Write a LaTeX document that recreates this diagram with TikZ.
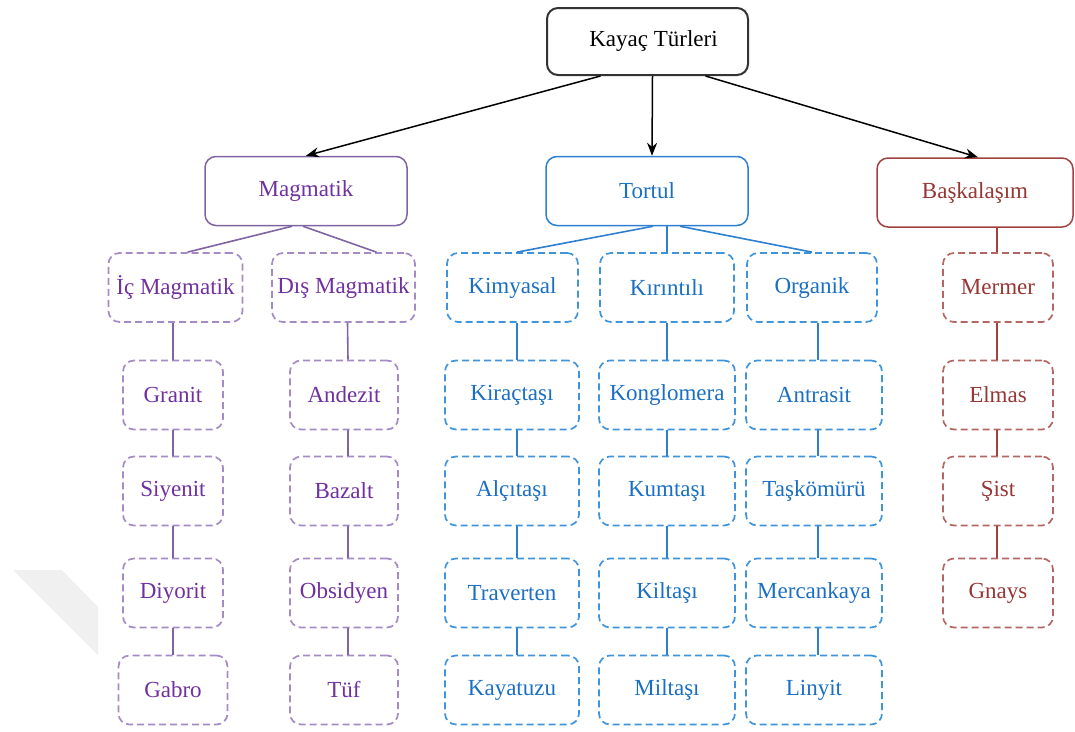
\documentclass[tikz,border=0pt]{standalone}
\usepackage{fontspec}
\setmainfont{Liberation Serif}
\usepackage{tikz}
\usetikzlibrary{arrows.meta,positioning}

\definecolor{mgline}{HTML}{8064A2}
\definecolor{mgtext}{HTML}{7030A0}
\definecolor{mgdash}{HTML}{A48BC6}
\definecolor{trline}{HTML}{2F7FD0}
\definecolor{trtext}{HTML}{1A6FC4}
\definecolor{trdash}{HTML}{3F94DA}
\definecolor{bkline}{HTML}{A0423F}
\definecolor{bktext}{HTML}{953735}
\definecolor{bkdash}{HTML}{B36664}

\tikzset{
  box/.style={rounded corners=11pt, inner sep=0pt, minimum height=69pt, line width=1.5pt, font=\fontsize{23}{27}\selectfont},
  rootbox/.style={box, draw=black!80, line width=2pt, minimum width=201pt, minimum height=67pt},
  mgbox/.style={box, draw=mgline, text=mgtext},
  trbox/.style={box, draw=trline, text=trtext},
  bkbox/.style={box, draw=bkline, text=bktext},
  mgitem/.style={box, draw=mgdash, text=mgtext, line width=1.7pt, dash pattern=on 7pt off 4pt},
  tritem/.style={box, draw=trdash, text=trtext, line width=1.7pt, dash pattern=on 7pt off 4pt},
  bkitem/.style={box, draw=bkdash, text=bktext, line width=1.7pt, dash pattern=on 7pt off 4pt},
  rootarrow/.style={-{Stealth[length=13pt,width=10pt]}, line width=1.5pt, black},
  mgedge/.style={draw=mgline, line width=1.6pt},
  tredge/.style={draw=trline, line width=1.6pt},
  bkedge/.style={draw=bkline, line width=1.6pt},
}

\begin{document}
\begin{tikzpicture}[x=1pt, y=-1pt]
      \useasboundingbox (0,0) rectangle (1075,731);
      % faint mark at the left
      \fill[black!6] (13,570) -- (62,570) -- (98,607) -- (98,655) -- cycle;

      % Define nodes
      \node[rootbox] (kayac) at (647.5,41.5) {\hspace*{12pt}Kayaç Türleri};
      \node[mgbox, minimum width=202pt] (magmatik) at (306,191) {Magmatik};
      \node[trbox, minimum width=202pt] (tortul) at (647,191) {Tortul};
      \node[bkbox, minimum width=196pt] (baskalasim) at (975,192.5) {Başkalaşım};

      \node[mgitem, minimum width=134pt] (ic) at (175.5,287.5) {İç Magmatik};
      \node[mgitem, minimum width=143pt] (dis) at (343.5,287.5) {Dış Magmatik};
      \node[tritem, minimum width=131pt] (kimyasal) at (512.5,287.5) {Kimyasal};
      \node[tritem, minimum width=134pt] (kirintili) at (667,287.5) {Kırıntılı};
      \node[tritem, minimum width=130pt] (organik) at (812,287.5) {Organik};
      \node[bkitem, minimum width=110pt] (mermer) at (998,287.5) {Mermer};

      \node[mgitem, minimum width=100pt] (granit) at (173,395) {Granit};
      \node[mgitem, minimum width=100pt] (siyenit) at (173,491) {Siyenit};
      \node[mgitem, minimum width=100pt] (diyorit) at (173,593) {Diyorit};
      \node[mgitem, minimum width=109pt] (gabro) at (173,690) {Gabro};

      \node[mgitem, minimum width=108pt] (andezit) at (344,395) {Andezit};
      \node[mgitem, minimum width=108pt] (bazalt) at (344,491) {Bazalt};
      \node[mgitem, minimum width=108pt] (obsidyen) at (344,593) {Obsidyen};
      \node[mgitem, minimum width=108pt] (tuf) at (344,690) {Tüf};

      \node[tritem, minimum width=134pt] (kiractasi) at (512,395) {Kiraçtaşı};
      \node[tritem, minimum width=134pt] (alcitasi) at (512,491) {Alçıtaşı};
      \node[tritem, minimum width=134pt] (traverten) at (512,593) {Traverten};
      \node[tritem, minimum width=134pt] (kayatuzu) at (512,690) {Kayatuzu};

      \node[tritem, minimum width=136pt] (konglomera) at (667,395) {Konglomera};
      \node[tritem, minimum width=136pt] (kumtasi) at (667,491) {Kumtaşı};
      \node[tritem, minimum width=136pt] (kiltasi) at (667,593) {Kiltaşı};
      \node[tritem, minimum width=136pt] (miltasi) at (667,690) {Miltaşı};

      \node[tritem, minimum width=136pt] (antrasit) at (814,395) {Antrasit};
      \node[tritem, minimum width=136pt] (taskomuru) at (814,491) {Taşkömürü};
      \node[tritem, minimum width=136pt] (mercankaya) at (814,593) {Mercankaya};
      \node[tritem, minimum width=136pt] (linyit) at (814,690) {Linyit};

      \node[bkitem, minimum width=110pt] (elmas) at (998,395) {Elmas};
      \node[bkitem, minimum width=110pt] (sist) at (998,491) {Şist};
      \node[bkitem, minimum width=110pt] (gnays) at (998,593) {Gnays};

      % Draw edges
      \draw[rootarrow] ([xshift=-47pt]kayac.south) -- (magmatik.north);
      \draw[rootarrow] ([xshift=5pt]kayac.south) -- ([xshift=5pt]tortul.north);
      \draw[rootarrow] ([xshift=58pt]kayac.south) -- ([xshift=3pt]baskalasim.north);

      \draw[mgedge] ([xshift=-14pt]magmatik.south) -- ([xshift=12pt]ic.north);
      \draw[mgedge] ([xshift=-3pt]magmatik.south) -- ([xshift=33pt]dis.north);
      \draw[mgedge] (ic.south -| granit) -- (granit);
      \draw[mgedge] (granit) -- (siyenit);
      \draw[mgedge] (siyenit) -- (diyorit);
      \draw[mgedge] (diyorit) -- (gabro);
      \draw[mgedge] ([xshift=4pt]dis.south) -- ([xshift=4pt]andezit.north);
      \draw[mgedge] ([xshift=4pt]andezit.south) -- ([xshift=4pt]bazalt.north);
      \draw[mgedge] ([xshift=4pt]bazalt.south) -- ([xshift=4pt]obsidyen.north);
      \draw[mgedge] ([xshift=4pt]obsidyen.south) -- ([xshift=4pt]tuf.north);

      \draw[tredge] ([xshift=6pt]tortul.south) -- ([xshift=4.5pt]kimyasal.north);
      \draw[tredge] ([xshift=20pt]tortul.south) -- (kirintili.north);
      \draw[tredge] ([xshift=33pt]tortul.south) -- (organik.north);
      \draw[tredge] ([xshift=4.5pt]kimyasal.south) -- ([xshift=5pt]kiractasi.north);
      \draw[tredge] ([xshift=5pt]kiractasi.south) -- ([xshift=5pt]alcitasi.north);
      \draw[tredge] ([xshift=5pt]alcitasi.south) -- ([xshift=5pt]traverten.north);
      \draw[tredge] ([xshift=5pt]traverten.south) -- ([xshift=5pt]kayatuzu.north);
      \draw[tredge] (kirintili) -- (konglomera);
      \draw[tredge] (konglomera) -- (kumtasi);
      \draw[tredge] (kumtasi) -- (kiltasi);
      \draw[tredge] (kiltasi) -- (miltasi);
      \draw[tredge] ([xshift=6pt]organik.south) -- ([xshift=4pt]antrasit.north);
      \draw[tredge] ([xshift=4pt]antrasit.south) -- ([xshift=4pt]taskomuru.north);
      \draw[tredge] ([xshift=4pt]taskomuru.south) -- ([xshift=4pt]mercankaya.north);
      \draw[tredge] ([xshift=4pt]mercankaya.south) -- ([xshift=4pt]linyit.north);

      \draw[bkedge] ([xshift=22pt]baskalasim.south) -- ([xshift=-1pt]mermer.north);
      \draw[bkedge] ([xshift=-1pt]mermer.south) -- ([xshift=-1pt]elmas.north);
      \draw[bkedge] ([xshift=-1pt]elmas.south) -- ([xshift=-1pt]sist.north);
      \draw[bkedge] ([xshift=-1pt]sist.south) -- ([xshift=-1pt]gnays.north);
    \end{tikzpicture}
\end{document}
